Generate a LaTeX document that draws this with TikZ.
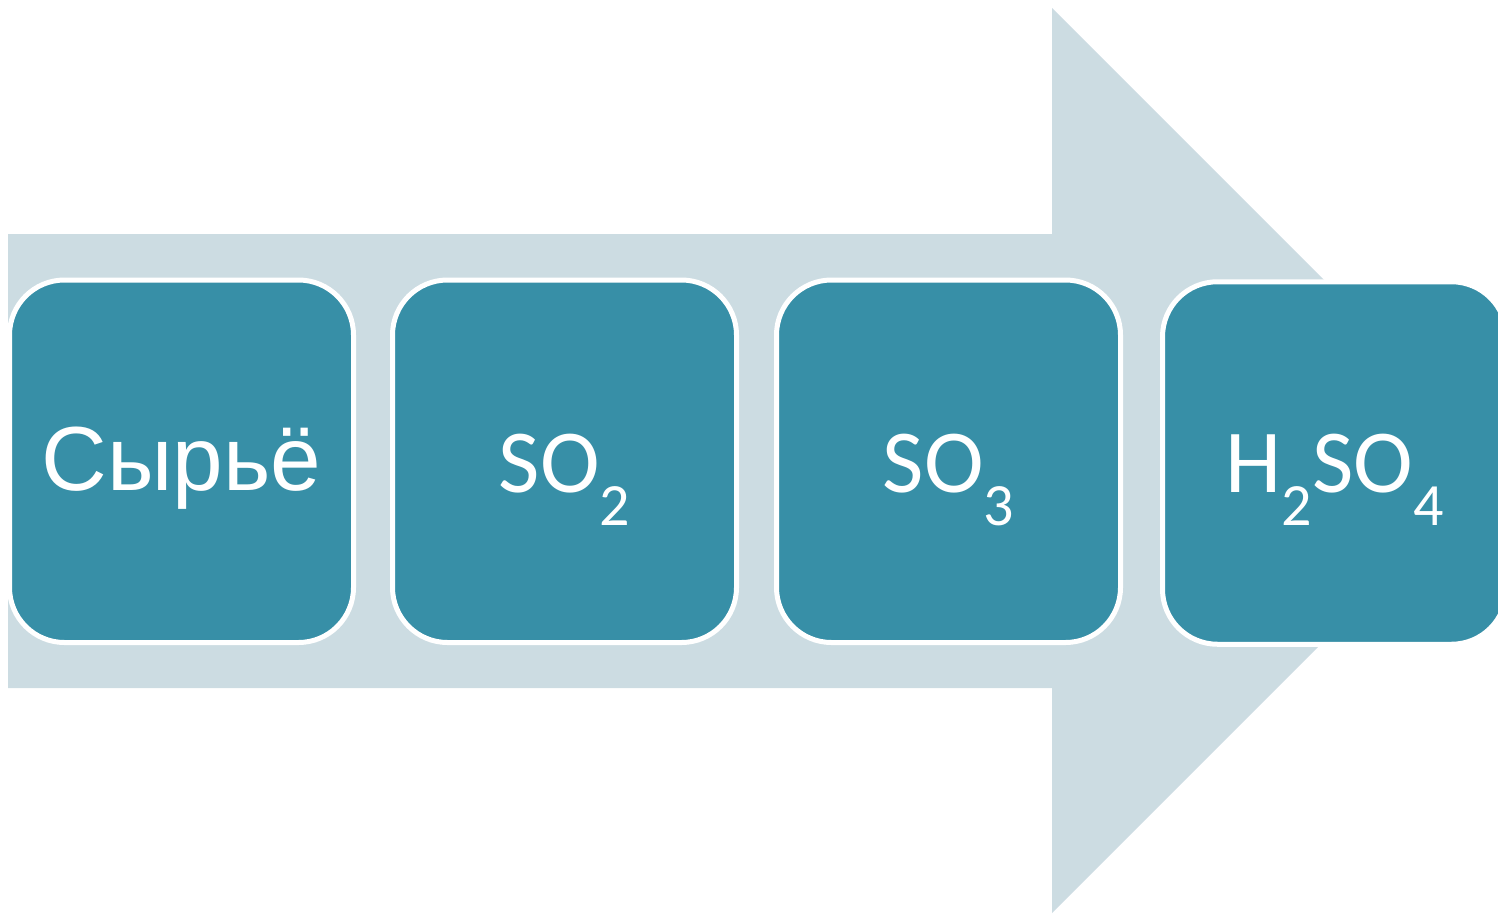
\documentclass[tikz,border=0pt]{standalone}
\usepackage{fontspec}
\setmainfont{Liberation Sans}
\newfontfamily\carl{Carlito}
\definecolor{arrowfill}{HTML}{CCDCE2}
\definecolor{boxfill}{HTML}{378FA7}
\newcommand{\subnum}[1]{\raisebox{-33pt}{\fontsize{60}{60}\selectfont #1}}
\begin{document}
\begin{tikzpicture}[x=1pt,y=-1pt,
  stage/.style={draw=white, line width=5pt, fill=boxfill, rounded corners=55pt,
    minimum width=344pt, minimum height=362.5pt, inner sep=0pt},
  lbl/.style={text=white, anchor=base, inner sep=0pt}]
\useasboundingbox (0,0) rectangle (1498,913);
\clip (0,0) rectangle (1498,913);
% big arrow
\fill[arrowfill] (8,234) -- (1052,234) -- (1052,8) -- (1504.5,460.5) -- (1052,913) -- (1052,688) -- (8,688) -- cycle;
% stage boxes
\node[stage] (b1) at (181.5,461.25) {};
\node[stage] (b2) at (564.5,461.25) {};
\node[stage] (b3) at (948.5,461.25) {};
\node[stage] (b4) at (1334.5,463) {};
% labels
\node[lbl] (t1) at (181.5,490) {\fontsize{91}{91}\selectfont Сырьё};
\node[lbl] (t2) at (564.5,492) {\carl\fontsize{90}{90}\selectfont SO\subnum{2}};
\node[lbl] (t3) at (948.5,492) {\carl\fontsize{90}{90}\selectfont SO\subnum{3}};
\node[lbl] (t4) at (1334.5,492) {\carl\fontsize{90}{90}\selectfont H\subnum{2}SO\subnum{4}};
\end{tikzpicture}
\end{document}
